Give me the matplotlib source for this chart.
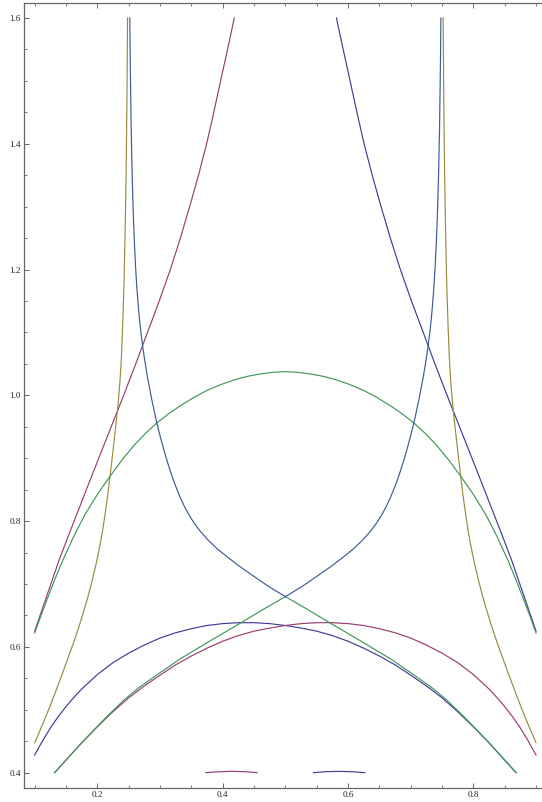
import matplotlib
matplotlib.use("Agg")
import matplotlib.pyplot as plt
from matplotlib.ticker import FixedLocator

# ---------------- data ----------------
# colour 1 (dark blue)
blue_arch_x = [0.100, 0.1125, 0.125, 0.1375, 0.150, 0.1625, 0.175, 0.200, 0.225, 0.250, 0.275,
               0.300, 0.325, 0.350, 0.375, 0.400, 0.425, 0.450, 0.475, 0.500, 0.525, 0.550,
               0.575, 0.600, 0.625, 0.650, 0.675, 0.700, 0.725, 0.750, 0.775, 0.800, 0.825,
               0.850, 0.8681]
blue_arch_y = [0.428, 0.4504, 0.471, 0.489, 0.505, 0.5196, 0.533, 0.556, 0.575, 0.590, 0.603,
               0.614, 0.6225, 0.629, 0.634, 0.637, 0.6385, 0.6385, 0.637, 0.634, 0.630, 0.625,
               0.618, 0.609, 0.598, 0.5855, 0.5715, 0.555, 0.538, 0.519, 0.497, 0.473, 0.4475,
               0.420, 0.400]
blue_fall_x = [0.900, 0.880, 0.861, 0.8455, 0.830, 0.8135, 0.797, 0.7775, 0.758, 0.739, 0.720,
               0.70175, 0.6835, 0.6681, 0.6527, 0.63915, 0.6256, 0.61445, 0.6033, 0.5924, 0.5815]
blue_fall_y = [0.625, 0.683, 0.738, 0.7785, 0.818, 0.8602, 0.902, 0.951, 1.000, 1.0492, 1.100,
               1.1486, 1.200, 1.2482, 1.300, 1.348, 1.400, 1.4489, 1.500, 1.5493, 1.600]
blue_small_x = [0.545, 0.565, 0.586, 0.610, 0.627]
blue_small_y = [0.400, 0.4016, 0.4021, 0.4013, 0.400]

# colour 2 (magenta)
mag_rise_x = [0.100, 0.120, 0.139, 0.1545, 0.170, 0.1865, 0.203, 0.2225, 0.242, 0.261, 0.280,
              0.29825, 0.3165, 0.3319, 0.3473, 0.36085, 0.3744, 0.38555, 0.3967, 0.4076, 0.4185]
mag_rise_y = [0.625, 0.683, 0.738, 0.7785, 0.818, 0.8602, 0.902, 0.951, 1.000, 1.0492, 1.100,
              1.1486, 1.200, 1.2482, 1.300, 1.348, 1.400, 1.4489, 1.500, 1.5493, 1.600]
mag_arch_x = [0.1319, 0.150, 0.175, 0.200, 0.225, 0.250, 0.275, 0.300, 0.325, 0.350, 0.375,
              0.400, 0.425, 0.450, 0.475, 0.500, 0.525, 0.550, 0.575, 0.600, 0.625, 0.650,
              0.675, 0.700, 0.725, 0.750, 0.775, 0.800, 0.825, 0.8375, 0.850, 0.8625, 0.875,
              0.8875, 0.900]
mag_arch_y = [0.400, 0.420, 0.4475, 0.473, 0.497, 0.519, 0.538, 0.555, 0.5715, 0.5855, 0.598,
              0.609, 0.618, 0.625, 0.630, 0.634, 0.637, 0.6385, 0.6385, 0.637, 0.634, 0.629,
              0.6225, 0.614, 0.603, 0.590, 0.575, 0.556, 0.533, 0.5196, 0.505, 0.489, 0.471,
              0.4504, 0.428]
mag_small_x = [0.373, 0.390, 0.414, 0.435, 0.455]
mag_small_y = [0.400, 0.4013, 0.4021, 0.4016, 0.400]

# colour 3 (gold)
gold_left_x = [0.100, 0.110, 0.120, 0.1325, 0.1447, 0.1540, 0.1628, 0.1710, 0.1787, 0.1855,
               0.1920, 0.1985, 0.2043, 0.2085, 0.2122, 0.2165, 0.2202, 0.2260, 0.2319, 0.2342,
               0.2362, 0.2375, 0.2385, 0.2405, 0.2426, 0.2445, 0.2455, 0.2465, 0.2474, 0.2482]
gold_left_y = [0.4477, 0.4705, 0.4945, 0.5264, 0.559, 0.5845, 0.609, 0.6332, 0.658, 0.6815,
               0.7064, 0.734, 0.762, 0.7855, 0.810, 0.8405, 0.8707, 0.9206, 0.974, 0.9982,
               1.024, 1.0448, 1.063, 1.113, 1.180, 1.270, 1.325, 1.400, 1.490, 1.600]
gold_right_x = [0.900, 0.890, 0.880, 0.8675, 0.8553, 0.8460, 0.8372, 0.8290, 0.8213, 0.8145,
                0.8080, 0.8015, 0.7957, 0.7915, 0.7878, 0.7835, 0.7798, 0.7740, 0.7681, 0.7658,
                0.7638, 0.7625, 0.7615, 0.7595, 0.7574, 0.7555, 0.7545, 0.7535, 0.7526, 0.7518]
gold_right_y = [0.4477, 0.4705, 0.4945, 0.5264, 0.559, 0.5845, 0.609, 0.6332, 0.658, 0.6815,
                0.7064, 0.734, 0.762, 0.7855, 0.810, 0.8405, 0.8707, 0.9206, 0.974, 0.9982,
                1.024, 1.0448, 1.063, 1.113, 1.180, 1.270, 1.325, 1.400, 1.490, 1.600]

# colour 4 (green)
green_arch_x = [0.100, 0.110, 0.120, 0.1325, 0.145, 0.1625, 0.180, 0.200, 0.220, 0.240, 0.260,
                0.278, 0.296, 0.3155, 0.335, 0.3553, 0.3755, 0.3978, 0.420, 0.440, 0.460, 0.480,
                0.500, 0.520, 0.540, 0.560, 0.580, 0.6022, 0.6245, 0.6447, 0.665, 0.6845, 0.704,
                0.722, 0.740, 0.760, 0.780, 0.800, 0.820, 0.8375, 0.855, 0.8675, 0.880, 0.890,
                0.900]
green_arch_y = [0.622, 0.6496, 0.676, 0.7081, 0.738, 0.776, 0.810, 0.8424, 0.871, 0.8981, 0.922,
                0.9406, 0.957, 0.972, 0.985, 0.9974, 1.008, 1.0174, 1.025, 1.0303, 1.034, 1.0366,
                1.0377, 1.0366, 1.034, 1.0303, 1.025, 1.0174, 1.008, 0.9974, 0.985, 0.972, 0.957,
                0.9406, 0.922, 0.8981, 0.871, 0.8424, 0.810, 0.776, 0.738, 0.7081, 0.676, 0.6496,
                0.622]
green_x_left_x = [0.1319, 0.160, 0.1894, 0.216, 0.2426, 0.266, 0.290, 0.3319, 0.380, 0.4304,
                  0.465, 0.500]
green_x_left_y = [0.400, 0.431, 0.4626, 0.490, 0.5156, 0.535, 0.552, 0.5807, 0.6096, 0.639,
                  0.6598, 0.680]
green_x_right_x = [0.500, 0.535, 0.5696, 0.620, 0.6681, 0.710, 0.734, 0.7574, 0.784, 0.8106,
                   0.840, 0.8681]
green_x_right_y = [0.680, 0.6598, 0.639, 0.6096, 0.5807, 0.552, 0.535, 0.5156, 0.490, 0.4626,
                   0.431, 0.400]

# colour 5 (light blue)
lblue_left_x = [0.2518, 0.2525, 0.2540, 0.2557, 0.2574, 0.2592, 0.2610, 0.2630, 0.2654, 0.2675,
                0.2700, 0.2730, 0.2760, 0.2798, 0.2870, 0.2947, 0.3000, 0.3067, 0.3125, 0.3186,
                0.3250, 0.3319, 0.3385, 0.3452, 0.3540, 0.3638, 0.3760, 0.3904, 0.4080, 0.4277,
                0.4500, 0.4750, 0.5000]
lblue_left_y = [1.600, 1.532, 1.423, 1.344, 1.287, 1.241, 1.2045, 1.172, 1.141, 1.118,
                1.096, 1.073, 1.053, 1.030, 0.9926, 0.957, 0.9359, 0.9113, 0.8918, 0.8731,
                0.8554, 0.8385, 0.8243, 0.8116, 0.7975, 0.7844, 0.7706, 0.7567, 0.7425, 0.7275,
                0.712, 0.695, 0.680]
lblue_right_x = [0.7482, 0.7475, 0.7460, 0.7443, 0.7426, 0.7408, 0.7390, 0.7370, 0.7346, 0.7325,
                 0.7300, 0.7270, 0.7240, 0.7202, 0.7130, 0.7053, 0.7000, 0.6933, 0.6875, 0.6814,
                 0.6750, 0.6681, 0.6615, 0.6548, 0.6460, 0.6362, 0.6240, 0.6096, 0.5920, 0.5723,
                 0.5500, 0.5250, 0.5000]
lblue_right_y = [1.600, 1.532, 1.423, 1.344, 1.287, 1.241, 1.2045, 1.172, 1.141, 1.118,
                 1.096, 1.073, 1.053, 1.030, 0.9926, 0.957, 0.9359, 0.9113, 0.8918, 0.8731,
                 0.8554, 0.8385, 0.8243, 0.8116, 0.7975, 0.7844, 0.7706, 0.7567, 0.7425, 0.7275,
                 0.712, 0.695, 0.680]

x_major = [0.2, 0.4, 0.6, 0.8]
x_labels = ["0.2", "0.4", "0.6", "0.8"]
y_major = [0.4, 0.6, 0.8, 1.0, 1.2, 1.4, 1.6]
y_labels = ["0.4", "0.6", "0.8", "1.0", "1.2", "1.4", "1.6"]
x_minor = [0.10, 0.15, 0.25, 0.30, 0.35, 0.45, 0.50, 0.55, 0.65, 0.70, 0.75, 0.85, 0.90]
y_minor = [0.45, 0.50, 0.55, 0.65, 0.70, 0.75, 0.85, 0.90, 0.95, 1.05, 1.10, 1.15,
           1.25, 1.30, 1.35, 1.45, 1.50, 1.55]

# ---------------- figure ----------------
C1 = (0.2472, 0.24, 0.6)
C2 = (0.6, 0.24, 0.4429)
C3 = (0.6, 0.547, 0.24)
C4 = (0.24, 0.6, 0.337)
C5 = (0.24, 0.353, 0.6)

W, H = 542, 802
fig = plt.figure(figsize=(W / 100, H / 100), dpi=100)
left_px, right_px, top_px, bottom_px = 24, 542, 2.7, 787.7
ax = fig.add_axes([left_px / W, (H - bottom_px) / H, (right_px - left_px) / W,
                   (bottom_px - top_px) / H])

lw = 0.85
for xs, ys in [(blue_arch_x, blue_arch_y), (blue_fall_x, blue_fall_y), (blue_small_x, blue_small_y)]:
    ax.plot(xs, ys, color=C1, lw=lw, zorder=2)
for xs, ys in [(mag_rise_x, mag_rise_y), (mag_arch_x, mag_arch_y), (mag_small_x, mag_small_y)]:
    ax.plot(xs, ys, color=C2, lw=lw, zorder=3)
for xs, ys in [(gold_left_x, gold_left_y), (gold_right_x, gold_right_y)]:
    ax.plot(xs, ys, color=C3, lw=lw, zorder=4)
for xs, ys in [(green_arch_x, green_arch_y), (green_x_left_x, green_x_left_y),
               (green_x_right_x, green_x_right_y)]:
    ax.plot(xs, ys, color=C4, lw=lw, zorder=5)
for xs, ys in [(lblue_left_x, lblue_left_y), (lblue_right_x, lblue_right_y)]:
    ax.plot(xs, ys, color=C5, lw=lw, zorder=6)

ax.set_xlim(0.08298, 0.9095)
ax.set_ylim(0.3761, 1.6243)

frame_col = "#666666"
for side in ["left", "bottom", "top"]:
    ax.spines[side].set_color(frame_col)
    ax.spines[side].set_linewidth(0.9)
ax.spines["right"].set_visible(False)

ax.xaxis.set_major_locator(FixedLocator(x_major))
ax.xaxis.set_minor_locator(FixedLocator(x_minor))
ax.yaxis.set_major_locator(FixedLocator(y_major))
ax.yaxis.set_minor_locator(FixedLocator(y_minor))
ax.set_xticklabels(x_labels)
ax.set_yticklabels(y_labels)

for lab in ax.get_xticklabels() + ax.get_yticklabels():
    lab.set_fontfamily(["Liberation Serif", "DejaVu Serif"])
    lab.set_fontsize(6.6)
    lab.set_color("#222222")

ax.tick_params(which="major", direction="in", length=3.4, width=0.7, color=frame_col,
               top=True, bottom=True, left=True, right=False)
ax.tick_params(which="minor", direction="in", length=1.9, width=0.6, color=frame_col,
               top=True, bottom=True, left=True, right=False)
ax.tick_params(axis="x", which="major", pad=2.6)
ax.tick_params(axis="y", which="major", pad=2.2)

fig.savefig("out.png", dpi=100)
